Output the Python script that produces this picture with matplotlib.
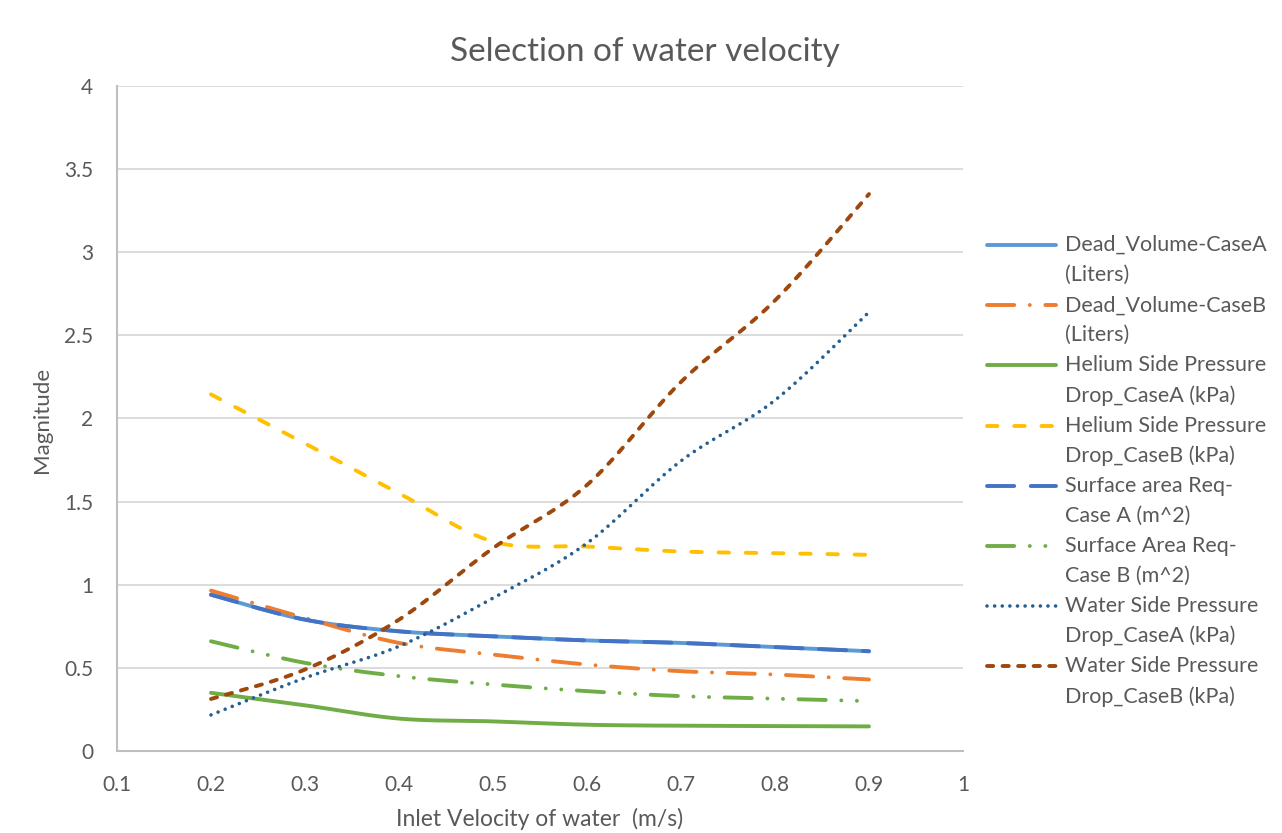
import numpy as np
import matplotlib
matplotlib.use("Agg")
import matplotlib.pyplot as plt
from matplotlib.lines import Line2D

# Inlet water velocity (m/s)
velocity = [0.2, 0.3, 0.4, 0.5, 0.6, 0.7, 0.8, 0.9]

dead_volume_a = [0.94, 0.79, 0.72, 0.69, 0.665, 0.65, 0.625, 0.60]
dead_volume_b = [0.965, 0.80, 0.65, 0.58, 0.52, 0.48, 0.46, 0.43]
helium_dp_a = [0.35, 0.275, 0.195, 0.178, 0.158, 0.152, 0.15, 0.148]
helium_dp_b = [2.145, 1.85, 1.55, 1.26, 1.23, 1.20, 1.19, 1.18]
surface_area_a = [0.94, 0.79, 0.72, 0.69, 0.665, 0.65, 0.625, 0.60]
surface_area_b = [0.66, 0.53, 0.45, 0.40, 0.36, 0.33, 0.315, 0.30]
water_dp_a = [0.217, 0.44, 0.63, 0.92, 1.25, 1.745, 2.11, 2.64]
water_dp_b = [0.313, 0.49, 0.79, 1.22, 1.60, 2.22, 2.71, 3.35]

series_labels = [
    ("Dead_Volume-CaseA", "(Liters)"),
    ("Dead_Volume-CaseB", "(Liters)"),
    ("Helium Side Pressure", "Drop_CaseA (kPa)"),
    ("Helium Side Pressure", "Drop_CaseB (kPa)"),
    ("Surface area Req-", "Case A (m^2)"),
    ("Surface Area Req-", "Case B (m^2)"),
    ("Water Side Pressure", "Drop_CaseA (kPa)"),
    ("Water Side Pressure", "Drop_CaseB (kPa)"),
]
series_values = [dead_volume_a, dead_volume_b, helium_dp_a, helium_dp_b,
                 surface_area_a, surface_area_b, water_dp_a, water_dp_b]

colors = ["#5B9BD5", "#ED7D31", "#70AD47", "#FFC000",
          "#4472C4", "#70AD47", "#255E91", "#9E480E"]
# dash patterns in units of line width (round caps)
dashes = [None, (7, 4, 0.01, 4), None, (2.7, 4.3),
          (7, 4.25), (7, 4, 0.01, 4, 0.01, 4), (0.01, 2.1), (1.6, 2.4)]
widths = [2.8, 2.8, 2.8, 2.8, 2.8, 2.8, 2.6, 2.8]

TEXT = "#595959"
FONT = "Lato"
plt.rcParams["font.family"] = [FONT, "DejaVu Sans"]


def smooth(xs, ys, n=40):
    """Catmull-Rom curve through the points (like a smoothed line chart)."""
    p = np.column_stack([xs, ys]).astype(float)
    p = np.vstack([p[0], p, p[-1]])
    t = np.linspace(0, 1, n, endpoint=False)[:, None]
    out = []
    for i in range(1, len(p) - 2):
        p0, p1, p2, p3 = p[i - 1], p[i], p[i + 1], p[i + 2]
        seg = 0.5 * (2 * p1 + (-p0 + p2) * t
                     + (2 * p0 - 5 * p1 + 4 * p2 - p3) * t ** 2
                     + (-p0 + 3 * p1 - 3 * p2 + p3) * t ** 3)
        out.append(seg)
    out.append(p[-2][None, :])
    c = np.vstack(out)
    return c[:, 0], c[:, 1]


W, H = 1282, 833
fig = plt.figure(figsize=(W / 100, H / 100), dpi=100)
L, R, T, B = 117, 963, 86, 751
ax = fig.add_axes([L / W, 1 - B / H, (R - L) / W, (B - T) / H])


def style_kwargs(i):
    kw = dict(color=colors[i], lw=widths[i], solid_capstyle="round",
              dash_capstyle="round")
    if dashes[i] is not None:
        kw["dashes"] = dashes[i]
    return kw


for i, vals in enumerate(series_values):
    sx, sy = smooth(velocity, vals)
    ax.plot(sx, sy, **style_kwargs(i))

ax.set_xlim(0.1, 1.0)
ax.set_ylim(0, 4)
xt = np.round(np.arange(0.1, 1.01, 0.1), 1)
ax.set_xticks(xt)
ax.set_xticklabels([f"{v:g}" for v in xt])
yt = np.arange(0, 4.01, 0.5)
ax.set_yticks(yt)
ax.set_yticklabels([f"{v:g}" for v in yt])
ax.tick_params(axis="both", length=0, labelsize=15, labelcolor=TEXT)
ax.tick_params(axis="x", pad=17)
ax.tick_params(axis="y", pad=17)

for s in ("top", "right"):
    ax.spines[s].set_visible(False)
for s in ("left", "bottom"):
    ax.spines[s].set_color("#BFBFBF")
    ax.spines[s].set_linewidth(1.5)
ax.yaxis.grid(True, color="#D9D9D9", lw=1.3)
ax.set_axisbelow(True)

fig.text(645 / W, 1 - 52 / H, "Selection of water velocity", ha="center",
         va="center", fontsize=24, color=TEXT)
fig.text(540 / W, 1 - 819 / H, "Inlet Velocity of water  (m/s)", ha="center",
         va="center", fontsize=16.5, color=TEXT)
fig.text(42 / W, 1 - 420 / H, "Magnitude", ha="center", va="center",
         rotation=90, fontsize=16, color=TEXT)

# legend
for i, (l1, l2) in enumerate(series_labels):
    y = 245 + i * 60.2
    fy = 1 - y / H
    fig.add_artist(Line2D([987 / W, 1056 / W], [fy, fy],
                          transform=fig.transFigure, **style_kwargs(i)))
    fig.text(1065 / W, fy, l1, ha="left", va="center", fontsize=15.5,
             color=TEXT)
    fig.text(1065 / W, 1 - (y + 30) / H, l2, ha="left", va="center",
             fontsize=15.5, color=TEXT)

fig.savefig("out.png", dpi=100)
